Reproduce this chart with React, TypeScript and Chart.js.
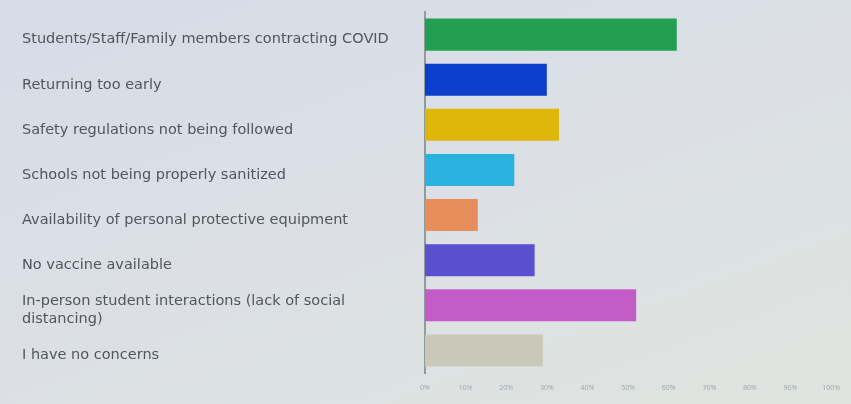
import React, { useEffect, useRef } from "react";
import { Chart, registerables } from "chart.js";

Chart.register(...registerables);

const categories: (string | string[])[] = [
  "Students/Staff/Family members contracting COVID",
  "Returning too early",
  "Safety regulations not being followed",
  "Schools not being properly sanitized",
  "Availability of personal protective equipment",
  "No vaccine available",
  ["In-person student interactions (lack of social", "distancing)"],
  "I have no concerns",
];

const values = [62, 30, 33, 22, 13, 27, 52, 29];

const barColors = [
  "#239f52",
  "#0b3fcc",
  "#dfb70a",
  "#2bb3df",
  "#e68f5c",
  "#5a4fcf",
  "#c35cc6",
  "#c9c9b9",
];

const xTicks = [0, 10, 20, 30, 40, 50, 60, 70, 80, 90, 100];

export default function App() {
  const canvasRef = useRef<HTMLCanvasElement | null>(null);

  useEffect(() => {
    document.body.style.margin = "0";
    const canvas = canvasRef.current;
    if (!canvas) return;
    const chart = new Chart(canvas, {
      type: "bar",
      data: {
        labels: categories,
        datasets: [
          {
            data: values,
            backgroundColor: barColors,
            borderWidth: 0,
            barPercentage: 0.71,
            categoryPercentage: 1,
          },
        ],
      },
      options: {
        indexAxis: "y",
        animation: false,
        responsive: false,
        maintainAspectRatio: false,
        layout: { padding: { left: 22, top: 11, right: 16, bottom: 0 } },
        plugins: {
          legend: { display: false },
          tooltip: { enabled: false },
        },
        scales: {
          x: {
            min: 0,
            max: 100,
            afterBuildTicks: (scale: any) => {
              scale.ticks = xTicks.map((v) => ({ value: v }));
            },
            afterFit: (scale: any) => {
              scale.height = 31;
            },
            grid: { display: false, drawTicks: false },
            border: { display: false },
            ticks: {
              padding: 11,
              autoSkip: false,
              maxRotation: 0,
              color: "#9ea5ad",
              font: { family: "Open Sans", size: 7 },
              callback: (v: any) => v + "%",
            },
          },
          y: {
            afterFit: (scale: any) => {
              scale.width = 403;
            },
            grid: { display: false, drawTicks: false },
            border: { display: true, color: "#8e9c9c", width: 2 },
            ticks: {
              crossAlign: "far",
              labelOffset: 5,
              color: "#51565c",
              font: { family: "DejaVu Sans", size: 14.5, lineHeight: 1.25 },
              autoSkip: false,
            },
          },
        },
      },
    });
    return () => chart.destroy();
  }, []);

  return (
    <div
      style={{
        width: 851,
        height: 404,
        background:
          "linear-gradient(160deg, #d6dbe6 0%, #dbdfe6 40%, #dfe4df 100%)",
        position: "relative",
        overflow: "hidden",
      }}
    >
      <canvas ref={canvasRef} width={851} height={404} />
    </div>
  );
}
